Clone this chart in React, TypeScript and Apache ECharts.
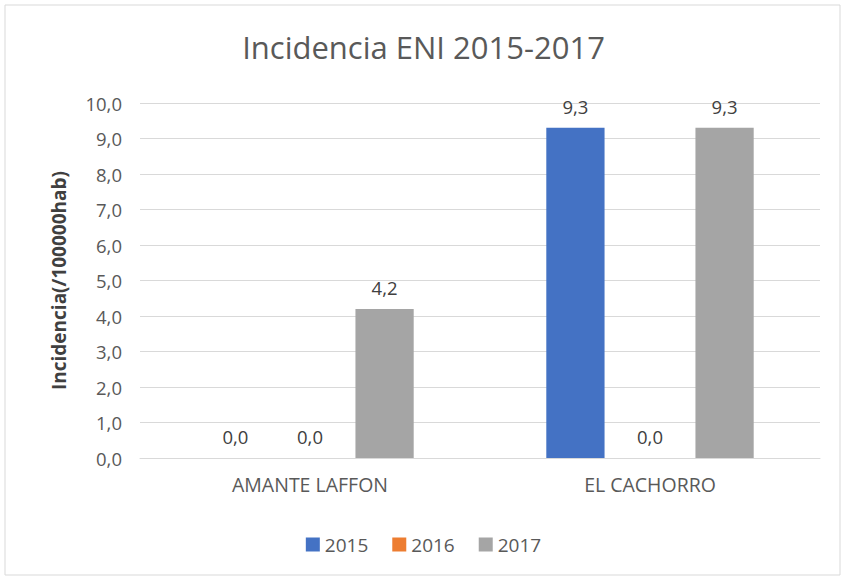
import React, { useEffect, useRef } from "react";
import * as echarts from "echarts";

const categories = ["AMANTE LAFFON", "EL CACHORRO"];
const seriesNames = ["2015", "2016", "2017"];
const values2015 = [0.0, 9.3];
const values2016 = [0.0, 0.0];
const values2017 = [4.2, 9.3];
const colors = ["#4472C4", "#ED7D31", "#A5A5A5"];

export default function App() {
  const ref = useRef<HTMLDivElement>(null);
  useEffect(() => {
    if (!ref.current) return;
    const chart = echarts.init(ref.current, null, { renderer: "svg" });
    const font = "'Open Sans', sans-serif";
    const data = [values2015, values2016, values2017];
    chart.setOption({
      animation: false,
      backgroundColor: "#ffffff",
      textStyle: { fontFamily: font },
      title: {
        text: "Incidencia ENI 2015-2017",
        left: "center",
        top: 26,
        textStyle: { fontSize: 31, fontWeight: "normal", color: "#595959", fontFamily: font },
      },
      legend: {
        bottom: 20,
        left: "center",
        itemWidth: 14,
        itemHeight: 14,
        itemGap: 24,
        icon: "rect",
        textStyle: { fontSize: 19, color: "#595959", fontFamily: font },
        data: seriesNames,
      },
      grid: { left: 140, right: 27, top: 103, bottom: 121 },
      xAxis: {
        type: "category",
        data: categories,
        axisLine: { lineStyle: { color: "#D9D9D9" } },
        axisTick: { show: false },
        axisLabel: { fontSize: 19.5, color: "#595959", margin: 16, fontFamily: font },
      },
      yAxis: {
        type: "value",
        min: 0,
        max: 10,
        interval: 1,
        name: "Incidencia(/100000hab)",
        nameLocation: "middle",
        nameGap: 72,
        nameRotate: 90,
        nameTextStyle: { fontSize: 19, fontWeight: "bold", color: "#404040", fontFamily: font },
        axisLine: { show: false },
        axisTick: { show: false },
        axisLabel: {
          fontSize: 18.5,
          color: "#595959",
          margin: 18,
          fontFamily: font,
          formatter: (v: number) => v.toFixed(1).replace(".", ","),
        },
        splitLine: { lineStyle: { color: "#D9D9D9" } },
      },
      series: seriesNames.map((name, i) => ({
        name,
        type: "bar",
        data: data[i],
        barGap: "28%",
        barCategoryGap: "39%",
        itemStyle: { color: colors[i] },
        label: {
          show: true,
          position: "top",
          distance: 12,
          fontSize: 18.5,
          color: "#404040",
          fontFamily: font,
          formatter: (p: any) => Number(p.value).toFixed(1).replace(".", ","),
        },
      })),
      graphic: [
        {
          type: "rect",
          shape: { x: 5, y: 5, width: 835, height: 570 },
          style: { fill: "none", stroke: "#D9D9D9", lineWidth: 1 },
          silent: true,
        },
      ],
    });
    return () => chart.dispose();
  }, []);
  return <div ref={ref} style={{ width: 847, height: 579, position: "absolute", left: 0, top: 0 }} />;
}
